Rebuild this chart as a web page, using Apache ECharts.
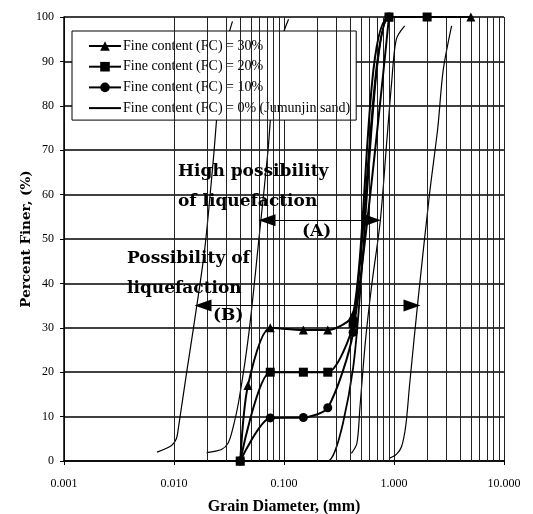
<!DOCTYPE html>
<html><head><meta charset="utf-8">
<script src="https://cdn.jsdelivr.net/npm/echarts@6/dist/echarts.min.js"></script>
<style>html,body{margin:0;padding:0;background:#fff}#c{width:533px;height:514px}</style>
</head><body><div id="c"></div>
<script>
// ---- tick labels ----
const xTickLabels = ['0.001', '0.010', '0.100', '1.000', '10.000'];
const minorMultipliers = [2, 3, 4, 5, 6, 7, 8, 9];
const decadeStarts = [0.001, 0.01, 0.1, 1];

// ---- legend series (grain size in mm, percent finer) ----
const fc30X = [0.04, 0.047, 0.075, 0.15, 0.25, 0.425, 0.9, 5.0];
const fc30Y = [0, 17, 30, 29.5, 29.5, 33, 100, 100];
const fc20X = [0.04, 0.075, 0.15, 0.25, 0.425, 0.9, 2.0];
const fc20Y = [0, 20, 20, 20, 31, 100, 100];
const fc10X = [0.04, 0.075, 0.15, 0.25, 0.425, 0.9];
const fc10Y = [0, 9.7, 9.8, 12, 29, 100];
const fc0X = [0.01, 0.075, 0.15, 0.25, 0.425, 0.9, 2.0];
const fc0Y = [0, 0, 0, 0, 21, 100, 100];

// ---- boundary curves of liquefaction zones ----
const bLeftBX = [0.007, 0.0095, 0.0105, 0.011, 0.013, 0.015, 0.019, 0.0228, 0.0254, 0.03, 0.034];
const bLeftBY = [2, 3.5, 5, 7.7, 19.8, 29.8, 47.6, 68, 81.5, 94, 99];
const bLeftAX = [0.0198, 0.027, 0.031, 0.034, 0.039, 0.048, 0.06, 0.0716, 0.079, 0.095, 0.11];
const bLeftAY = [1.9, 2.6, 4, 7, 13.8, 28.9, 51.5, 70, 83, 95, 99.5];
const bRightAX = [0.41, 0.46, 0.49, 0.55, 0.63, 0.75, 0.86, 0.95, 1.05, 1.25];
const bRightAY = [1.7, 4, 12, 27, 40, 54, 72, 85, 95, 98];
const bRightBX = [0.9, 1.05, 1.17, 1.28, 1.39, 1.65, 2.1, 2.5, 2.8, 3.34];
const bRightBY = [0.6, 1.5, 3.2, 8, 17.5, 36, 60, 75, 88, 98];

// ---- zone arrows (x extents in mm, level in %) ----
const arrowAX = [0.0701, 0.637];
const arrowAY = 54.2;
const arrowBX = [0.01836, 1.458];
const arrowBY = 35;

const legendNames = ['Fine content (FC) = 30%', 'Fine content (FC) = 20%', 'Fine content (FC) = 10%', 'Fine content (FC) = 0% (Jumunjin sand)'];

function pairs(xs, ys) { return xs.map((x, i) => [x, ys[i]]); }
const minorValues = [];
decadeStarts.forEach(d => minorMultipliers.forEach(m => minorValues.push(+(d * m).toPrecision(3))));

const serif = '"Liberation Serif", "Times New Roman", serif';
const annFont = 'bold 17px "DejaVu Serif", serif';

function boundary(name, xs, ys) {
  return {
    name: name, type: 'line', data: pairs(xs, ys), smooth: 0.3, symbol: 'none',
    lineStyle: { color: '#000', width: 1.2 }, z: 3, silent: true
  };
}

const chart = echarts.init(document.getElementById('c'), null, { renderer: 'canvas' });
chart.setOption({
  backgroundColor: '#fff',
  animation: false,
  grid: { left: 64, right: 29, top: 17, bottom: 53, containLabel: false, outerBoundsMode: 'none' },
  xAxis: {
    type: 'log', logBase: 10, min: 0.001, max: 10,
    name: 'Grain Diameter, (mm)', nameLocation: 'middle', nameGap: 38, nameMoveOverlap: false,
    nameTextStyle: { fontFamily: serif, fontWeight: 'bold', fontSize: 16, color: '#000' },
    axisLine: { show: true, lineStyle: { color: '#000', width: 1.5 } },
    axisTick: { show: true, inside: false, length: 4, lineStyle: { color: '#000' } },
    axisLabel: {
      fontFamily: serif, fontSize: 12, color: '#000', margin: 17,
      formatter: v => xTickLabels[Math.round(Math.log10(v) + 3)] || ''
    },
    splitLine: { show: true, lineStyle: { color: '#222', width: 1 } },
    minorTick: { show: false }, minorSplitLine: { show: false }
  },
  yAxis: {
    type: 'value', min: 0, max: 100, interval: 10,
    name: 'Percent Finer, (%)', nameLocation: 'middle', nameGap: 31, nameMoveOverlap: false,
    nameTextStyle: { fontFamily: '"DejaVu Serif", serif', fontWeight: 'bold', fontSize: 13.5, color: '#000' },
    axisLine: { show: true, lineStyle: { color: '#000', width: 1.5 } },
    axisTick: { show: true, inside: false, length: 4, lineStyle: { color: '#000' } },
    axisLabel: { fontFamily: serif, fontSize: 12, color: '#000', margin: 10 },
    splitLine: { show: true, lineStyle: { color: '#000', width: 1.5 } }
  },
  legend: {
    data: [
      { name: legendNames[0] },
      { name: legendNames[1] },
      { name: legendNames[2] },
      { name: legendNames[3], icon: 'path://M0,0H32V2H0Z' }
    ],
    orient: 'vertical', left: 72, top: 31,
    backgroundColor: '#fff', borderColor: '#000', borderWidth: 1,
    padding: [8, 6, 5, 16], itemGap: 6.7, itemWidth: 32, itemHeight: 12,
    textStyle: { fontFamily: serif, fontSize: 14, color: '#000', padding: [0, 0, 0, -3] },
    selectedMode: false
  },
  series: [
    {
      name: 'grid', type: 'line', data: [], z: 1, silent: true,
      markLine: {
        silent: true, symbol: 'none', label: { show: false }, animation: false,
        lineStyle: { color: '#222', width: 1, type: 'solid' },
        data: minorValues.map(v => ({ xAxis: v }))
      }
    },
    boundary('leftB', bLeftBX, bLeftBY),
    boundary('leftA', bLeftAX, bLeftAY),
    boundary('rightA', bRightAX, bRightAY),
    boundary('rightB', bRightBX, bRightBY),
    {
      name: legendNames[3], type: 'line', data: pairs(fc0X, fc0Y), smooth: 0.25,
      symbol: 'none', lineStyle: { color: '#000', width: 1.8 }, itemStyle: { color: '#000' }, z: 4
    },
    {
      name: legendNames[0], type: 'line', data: pairs(fc30X, fc30Y), smooth: 0.25,
      symbol: 'triangle', symbolSize: 9, showAllSymbol: true,
      lineStyle: { color: '#000', width: 2 }, itemStyle: { color: '#000' }, z: 5
    },
    {
      name: legendNames[2], type: 'line', data: pairs(fc10X, fc10Y), smooth: 0.25,
      symbol: 'circle', symbolSize: 9, showAllSymbol: true,
      lineStyle: { color: '#000', width: 2 }, itemStyle: { color: '#000' }, z: 5
    },
    {
      name: legendNames[1], type: 'line', data: pairs(fc20X, fc20Y), smooth: 0.25,
      symbol: 'rect', symbolSize: 9, showAllSymbol: true,
      lineStyle: { color: '#000', width: 2 }, itemStyle: { color: '#000' }, z: 6
    },
    {
      name: 'arrows', type: 'line', data: [], z: 7, silent: true,
      markLine: {
        silent: true, symbol: ['triangle', 'triangle'], symbolSize: [12, 17],
        label: { show: false }, animation: false,
        lineStyle: { color: '#000', width: 1, type: 'solid' },
        itemStyle: { color: '#000' },
        data: [
          [{ coord: [arrowAX[0], arrowAY] }, { coord: [arrowAX[1], arrowAY] }],
          [{ coord: [arrowBX[0], arrowBY] }, { coord: [arrowBX[1], arrowBY] }]
        ]
      }
    }
  ],
  graphic: [
    { type: 'text', left: 178, top: 163, z: 20, style: { text: 'High possibility', font: annFont, fill: '#000' } },
    { type: 'text', left: 178, top: 193, z: 20, style: { text: 'of liquefaction', font: annFont, fill: '#000' } },
    { type: 'text', left: 302, top: 223, z: 20, style: { text: '(A)', font: annFont, fill: '#000' } },
    { type: 'text', left: 127, top: 250, z: 20, style: { text: 'Possibility of', font: annFont, fill: '#000' } },
    { type: 'text', left: 127, top: 280, z: 20, style: { text: 'liquefaction', font: annFont, fill: '#000' } },
    { type: 'text', left: 213, top: 307, z: 20, style: { text: '(B)', font: annFont, fill: '#000' } }
  ]
});
</script>
</body></html>
